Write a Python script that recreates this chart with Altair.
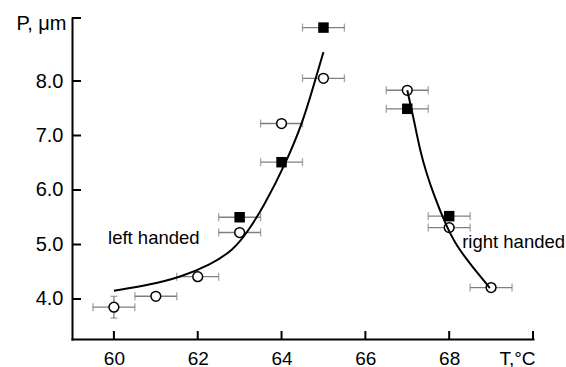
import altair as alt
import pandas as pd

# ---- data ----
open_T = [60, 61, 62, 63, 64, 65, 67, 68, 69]
open_P = [3.85, 4.05, 4.41, 5.22, 7.22, 8.05, 7.83, 5.31, 4.21]
open_Perr = [0.2, 0, 0, 0, 0, 0, 0, 0, 0]
filled_T = [63, 64, 65, 67, 68]
filled_P = [5.50, 6.51, 8.98, 7.49, 5.52]
T_err = 0.5

left_fit_T = [60.0, 60.86, 61.58, 62.29, 62.85, 63.17, 63.57, 64.1, 64.5, 64.76, 65.0]
left_fit_P = [4.15, 4.26, 4.40, 4.62, 4.90, 5.21, 5.69, 6.49, 7.23, 7.90, 8.53]
right_fit_T = [67.0, 67.15, 67.31, 67.47, 67.62, 67.9, 68.18, 68.58, 68.97]
right_fit_P = [7.83, 7.32, 6.70, 6.28, 5.94, 5.39, 4.96, 4.57, 4.20]

x_ticks = [60, 62, 64, 66, 68, 70]
y_ticks = [4, 5, 6, 7, 8]
x_domain = [59, 70]
y_domain = [3.266, 9.156]

ann_text = ["left handed", "right handed"]
ann_T = [59.86, 68.31]
ann_P = [5.00, 4.94]

FONT = "Liberation Sans"
GRAY = "#7f7f7f"

# ---- tables ----
pts = pd.DataFrame(
    {"T": open_T + filled_T,
     "P": open_P + filled_P,
     "kind": ["open"] * len(open_T) + ["filled"] * len(filled_T)}
)
pts["lo"] = pts["T"] - T_err
pts["hi"] = pts["T"] + T_err

caps_x = pd.DataFrame({"T": list(pts["lo"]) + list(pts["hi"]), "P": list(pts["P"]) * 2})

vbars = pd.DataFrame({"T": open_T, "P": open_P, "e": open_Perr})
vbars = vbars[vbars["e"] > 0].copy()
vbars["plo"] = vbars["P"] - vbars["e"]
vbars["phi"] = vbars["P"] + vbars["e"]
caps_y = pd.DataFrame({"T": list(vbars["T"]) * 2, "P": list(vbars["plo"]) + list(vbars["phi"])})

fit = pd.DataFrame(
    {"T": left_fit_T + right_fit_T,
     "P": left_fit_P + right_fit_P,
     "branch": ["left"] * len(left_fit_T) + ["right"] * len(right_fit_T)}
)
ann = pd.DataFrame({"text": ann_text, "T": ann_T, "P": ann_P})
xt = pd.DataFrame({"v": x_ticks})
yt = pd.DataFrame({"v": y_ticks + [y_domain[1]]})

xs = alt.Scale(domain=x_domain, nice=False, zero=False)
ys = alt.Scale(domain=y_domain, nice=False, zero=False)

x_axis = alt.Axis(
    values=x_ticks[:-1], format="d", ticks=False, grid=False,
    labelFont=FONT, labelFontSize=19, labelColor="black", labelPadding=10,
    domainColor="black", domainWidth=2, domainCap="square",
    title="T,°C", titleFont=FONT, titleFontSize=19, titleFontWeight="normal",
    titleColor="black", titleX=445, titleY=25, titleAlign="center",
    titleBaseline="alphabetic", titleAngle=0,
)
y_axis = alt.Axis(
    values=y_ticks, format=".1f", ticks=False, grid=False,
    labelFont=FONT, labelFontSize=20, labelColor="black", labelPadding=9,
    domainColor="black", domainWidth=2, domainCap="square",
    title="P, μm", titleFont=FONT, titleFontSize=20, titleFontWeight="normal",
    titleColor="black", titleX=-6, titleY=11, titleAlign="right",
    titleBaseline="alphabetic", titleAngle=0,
)


def X(f):
    return alt.X(f, scale=xs, axis=x_axis)


def Y(f):
    return alt.Y(f, scale=ys, axis=y_axis)


# error bars
hbar = alt.Chart(pts).mark_rule(color=GRAY, strokeWidth=1.3).encode(
    x=X("lo:Q"), x2="hi:Q", y=Y("P:Q"),
)
hcap = alt.Chart(caps_x).mark_tick(orient="vertical", size=8, thickness=1.3, color=GRAY).encode(
    x=X("T:Q"), y=Y("P:Q"),
)
vbar = alt.Chart(vbars).mark_rule(color=GRAY, strokeWidth=1.3).encode(
    x=X("T:Q"), y=Y("plo:Q"), y2="phi:Q",
)
vcap = alt.Chart(caps_y).mark_tick(orient="horizontal", size=7, thickness=1.3, color=GRAY).encode(
    x=X("T:Q"), y=Y("P:Q"),
)

# markers
circles = alt.Chart(pts[pts["kind"] == "open"]).mark_point(
    shape="circle", size=95, filled=True, fill="white", stroke="black", strokeWidth=1.5, opacity=1
).encode(x=X("T:Q"), y=Y("P:Q"))
squares = alt.Chart(pts[pts["kind"] == "filled"]).mark_point(
    shape="square", size=110, filled=True, color="black", opacity=1
).encode(x=X("T:Q"), y=Y("P:Q"))

# fitted curves
curves = alt.Chart(fit).mark_line(color="black", strokeWidth=2, interpolate="basis").encode(
    x=X("T:Q"), y=Y("P:Q"), detail="branch:N",
)

# inward axis ticks
xtick = alt.Chart(xt).mark_rule(color="black", strokeWidth=2).encode(
    x=X("v:Q"), y=alt.value(321), y2=alt.value(313),
)
ytick = alt.Chart(yt).mark_rule(color="black", strokeWidth=2).encode(
    y=Y("v:Q"), x=alt.value(0), x2=alt.value(9),
)

labels = alt.Chart(ann).mark_text(
    font=FONT, fontSize=18.5, color="black", align="left", baseline="alphabetic"
).encode(x=X("T:Q"), y=Y("P:Q"), text="text:N")

chart = alt.layer(
    hbar, hcap, vbar, vcap, circles, squares, curves, xtick, ytick, labels
).properties(
    width=461, height=321,
    padding={"left": 72, "top": 18, "right": 33, "bottom": 28},
    autosize=alt.AutoSizeParams(type="none"),
    background="white",
).configure_view(stroke=None)

chart.save("out.html", embed_options={"renderer": "svg", "actions": False})
